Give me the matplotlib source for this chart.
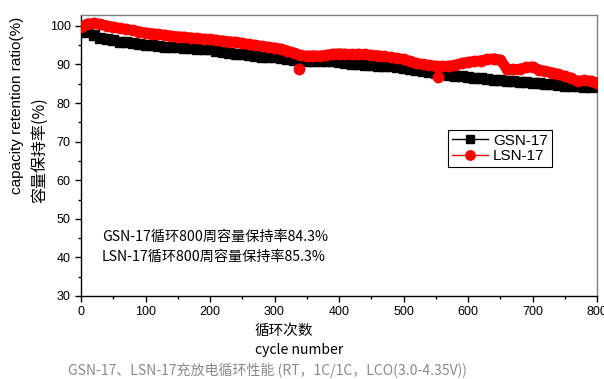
import matplotlib
matplotlib.use("Agg")
import matplotlib.pyplot as plt
from matplotlib.ticker import MultipleLocator

cycles = list(range(0, 801, 10))

gsn = [99.4, 98.4, 97.5, 96.9, 96.5, 96.2, 95.9, 95.7, 95.5, 95.3,
       95.1, 94.9, 94.8, 94.6, 94.5, 94.4, 94.3, 94.2, 94.1, 94.0,
       93.9, 93.6, 93.3, 93.0, 92.8, 92.6, 92.4, 92.2, 92.0, 91.9,
       91.8, 91.6, 91.4, 91.2, 91.0, 90.9, 90.8, 90.8, 90.9, 90.8,
       90.6, 90.4, 90.2, 90.0, 89.9, 89.8, 89.7, 89.6, 89.5, 89.3,
       89.1, 88.8, 88.5, 88.3, 88.1, 87.9, 87.6, 87.3, 87.1, 86.9,
       86.8, 86.6, 86.4, 86.2, 86.0, 85.9, 85.8, 85.6, 85.5, 85.4,
       85.3, 85.1, 85.0, 84.8, 84.7, 84.5, 84.4, 84.3, 84.2, 84.2,
       84.3]

lsn = [99.6, 100.5, 100.7, 100.4, 100.0, 99.7, 99.4, 99.1, 98.8, 98.5,
       98.2, 98.0, 97.8, 97.6, 97.4, 97.2, 97.1, 96.9, 96.8, 96.6,
       96.5, 96.3, 96.1, 95.9, 95.8, 95.5, 95.2, 95.0, 94.7, 94.5,
       94.3, 94.0, 93.5, 93.0, 92.4, 92.2, 92.3, 92.2, 92.4, 92.7,
       92.8, 92.7, 92.6, 92.7, 92.6, 92.4, 92.3, 92.1, 91.8, 91.6,
       91.3, 90.8, 90.3, 90.0, 89.8, 89.6, 89.5, 89.6, 89.8, 90.3,
       90.6, 90.8, 91.0, 91.3, 91.5, 91.2, 88.9, 88.7, 88.8, 89.2,
       89.4, 88.6, 88.2, 87.9, 87.5, 86.9, 86.5, 85.6, 85.9, 85.7,
       85.3]

lsn_outlier_cycles = [338, 553]
lsn_outlier_values = [88.8, 86.7]

labels = ["GSN-17", "LSN-17"]
note_lines = ["GSN-17循环800周容量保持率84.3%", "LSN-17循环800周容量保持率85.3%"]
caption = "GSN-17、LSN-17充放电循环性能 (RT，1C/1C，LCO(3.0-4.35V))"

cjk = ["Noto Sans CJK SC", "DejaVu Sans"]
arial = ["Liberation Sans", "DejaVu Sans"]

fig = plt.figure(figsize=(6.04, 3.79), dpi=100)
ax = fig.add_axes([81/604, 1-296/379, (597-81)/604, (296-15)/379])

# dense marker band (continuous, as in the original with one marker per cycle)
ax.plot(cycles, gsn, color="black", linewidth=6.5, solid_capstyle="round",
        solid_joinstyle="round", zorder=2)
ax.plot(cycles, gsn, color="black", marker="s", markersize=6.5, linewidth=1,
        label=labels[0], zorder=3)
ax.plot(cycles, lsn, color="red", linewidth=7.5, solid_capstyle="round",
        solid_joinstyle="round", zorder=4)
ax.plot(cycles, lsn, color="red", marker="o", markersize=7.5, linewidth=1,
        label=labels[1], zorder=5)
ax.plot(lsn_outlier_cycles, lsn_outlier_values, linestyle="none", color="red",
        marker="o", markersize=7.5, zorder=5)

ax.set_xlim(0, 800)
ax.set_ylim(30, 102.8)
ax.xaxis.set_major_locator(MultipleLocator(100))
ax.xaxis.set_minor_locator(MultipleLocator(50))
ax.yaxis.set_major_locator(MultipleLocator(10))
ax.yaxis.set_minor_locator(MultipleLocator(5))
ax.tick_params(which="major", direction="out", length=4, width=1, labelsize=9)
ax.tick_params(which="minor", direction="out", length=2.5, width=1)
for lab in ax.get_xticklabels() + ax.get_yticklabels():
    lab.set_family(arial)

for s in ["left", "bottom"]:
    ax.spines[s].set_color("black")
    ax.spines[s].set_linewidth(1)
for s in ["top", "right"]:
    ax.spines[s].set_color("#808080")
    ax.spines[s].set_linewidth(1)

leg = ax.legend(loc="upper left", bbox_to_anchor=((448-81)/516, (296-130)/281),
                borderaxespad=0, fancybox=False, edgecolor="black",
                framealpha=1, prop={"family": arial, "size": 11},
                handlelength=2.4, handletextpad=0.3, borderpad=0.25,
                labelspacing=0.1, markerscale=0.9)
leg.get_frame().set_linewidth(0.8)

fig.text(17/604, 1-105/379, "capacity retention ratio(%)", rotation=90,
         ha="center", va="center", fontsize=11, family=arial)
fig.text(40/604, 1-150/379, "容量保持率(%)", rotation=90,
         ha="center", va="center", fontsize=11.5, family=cjk)

fig.text(102/604, 1-237/379, note_lines[0], ha="left", va="center",
         fontsize=10.2, family=cjk)
fig.text(102/604, 1-257/379, note_lines[1], ha="left", va="center",
         fontsize=10.2, family=cjk)

fig.text(255/604, 1-331/379, "循环次数", ha="left", va="center",
         fontsize=10.5, family=cjk)
fig.text(255/604, 1-350/379, "cycle number", ha="left", va="center",
         fontsize=10.1, family=cjk)
fig.text(267/604, 1-370/379, caption, ha="center", va="center",
         fontsize=10.1, family=cjk, color="#8a8a8a")

fig.savefig("out.png", dpi=100)
